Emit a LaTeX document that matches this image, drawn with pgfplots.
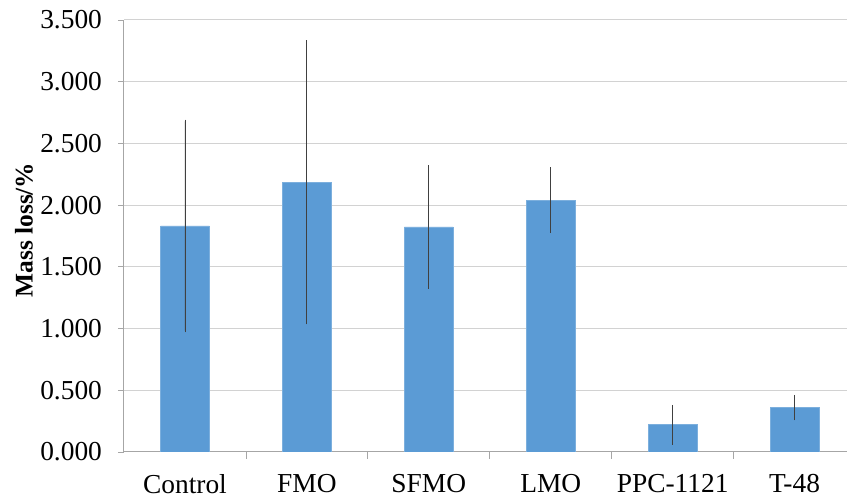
\documentclass[border=0pt]{standalone}
\usepackage{pgfplots}
\pgfplotsset{compat=1.18}
\usepackage{fontspec}
\setmainfont{Liberation Serif}
\definecolor{barblue}{HTML}{5B9BD5}
\begin{document}
\begin{tikzpicture}
\begin{axis}[
    at={(0,0)}, anchor=south west,
    scale only axis,
    width=361.5pt, height=216pt,
    xmin=-0.5, xmax=5.43,
    ymin=0, ymax=3.5,
    ytick={0,0.5,...,3.5},
    /pgf/number format/fixed,
    /pgf/number format/fixed zerofill,
    /pgf/number format/precision=3,
    /pgf/number format/assume math mode=true,
    ticklabel style={font=\fontsize{13.7}{15}\selectfont},
    xtick={0,...,5},
    xticklabels={Control, FMO, SFMO, LMO, PPC-1121, T-48},
    minor xtick={0.5,1.5,2.5,3.5,4.5},
    major x tick style={draw=none},
    minor tick length=3.5pt,
    major tick length=3pt,
    tick align=outside,
    tick style={gray!70, line width=0.4pt},
    axis x line*=bottom,
    axis y line*=left,
    axis line style={gray!70, line width=0.5pt, -},
    ymajorgrids,
    grid style={gray!35, line width=0.5pt},
    ylabel={\textbf{Mass loss/\%}},
    every axis y label/.style={at={(axis description cs:0,0.5)}, xshift=-50pt, yshift=3pt,
        rotate=90, anchor=center, font=\fontsize{12.7}{14}\selectfont},
    xticklabel style={yshift=-4.5pt},
    yticklabel style={xshift=-4.5pt},
    ybar, bar width=0.4,
]
\addplot[fill=barblue, draw=barblue!80!white,
    error bars/.cd, y dir=both, y explicit,
    error bar style={black!75, line width=0.4pt},
    error mark options={black!75, mark size=0.8pt, line width=0.4pt}]
coordinates {
    (0,1.831) +- (0,0.848)
    (1,2.185) +- (0,1.138)
    (2,1.823) +- (0,0.486)
    (3,2.040) +- (0,0.254)
    (4,0.221) +- (0,0.148)
    (5,0.359) +- (0,0.090)
};
\end{axis}
\pgfresetboundingbox
\useasboundingbox (-62pt,-23pt) rectangle (361.5pt,226pt);
\end{tikzpicture}
\end{document}
